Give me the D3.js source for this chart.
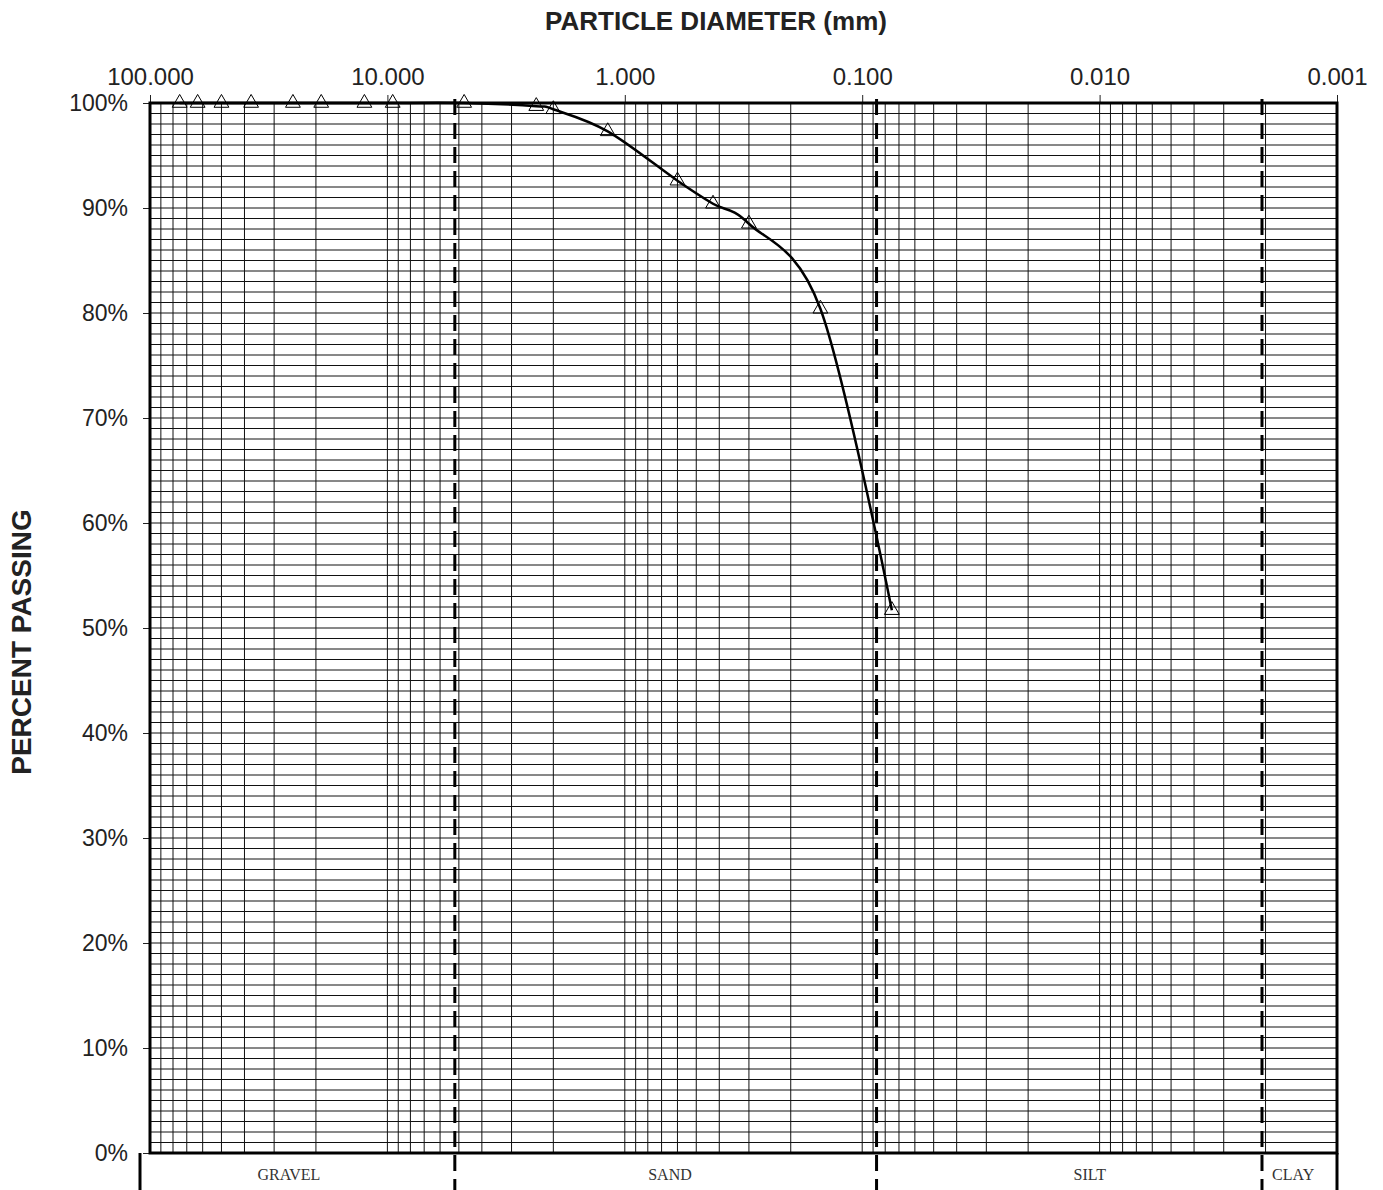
<!DOCTYPE html>
<html lang="en">
<head>
<meta charset="UTF-8">
<script src="https://cdnjs.cloudflare.com/ajax/libs/d3/7.8.5/d3.min.js"></script>
<style>
    body { margin: 0; background: #fff; }
    svg { display: block; }
</style>
</head>
<body>
<div id="chart"></div>
<script>
    // sieve results: particle diameter (mm) and percent passing
    var diameters = [75, 63, 50, 37.5, 25, 19, 12.5, 9.5, 4.75, 2.36, 2.0, 1.18, 0.6, 0.425, 0.3, 0.15, 0.075];
    var passing = [100, 100, 100, 100, 100, 100, 100, 100, 100, 99.7, 99.4, 97.3, 92.6, 90.4, 88.5, 80.4, 51.7];

    var xTicks = [100, 10, 1, 0.1, 0.01, 0.001];
    var yTicks = [0, 10, 20, 30, 40, 50, 60, 70, 80, 90, 100];

    // soil class boundaries (mm) and where the class names sit
    var boundaries = [5.2, 0.087, 0.00207];
    var classNames = ["GRAVEL", "SAND", "SILT", "CLAY"];
    var classLabelAt = [26, 0.645, 0.011, 0.00153];

    var W = 1383, H = 1190;
    var plotL = 150, plotR = 1337, plotT = 103, plotB = 1153;

    var svg = d3.select("#chart").append("svg")
        .attr("width", W)
        .attr("height", H);

    var x = d3.scaleLog().domain([100, 0.001]).range([plotL, plotR]);
    var y = d3.scaleLinear().domain([0, 100]).range([plotB, plotT]);

    // minor log grid
    var vLines = [];
    [0.001, 0.01, 0.1, 1, 10].forEach(function (d) {
        for (var k = 1; k < 10; k++) vLines.push(d * k);
    });
    svg.append("g").selectAll("line")
        .data(vLines)
        .enter().append("line")
        .attr("x1", function (d) { return x(d); })
        .attr("x2", function (d) { return x(d); })
        .attr("y1", plotT)
        .attr("y2", plotB)
        .attr("stroke", "#111")
        .attr("stroke-width", 1);

    var hLines = d3.range(1, 100);
    svg.append("g").selectAll("line")
        .data(hLines)
        .enter().append("line")
        .attr("x1", plotL)
        .attr("x2", plotR)
        .attr("y1", function (d) { return y(d); })
        .attr("y2", function (d) { return y(d); })
        .attr("stroke", "#111")
        .attr("stroke-width", 1);

    // axes
    var xAxis = svg.append("g")
        .attr("transform", "translate(0," + plotT + ")")
        .call(d3.axisTop(x).tickValues(xTicks).tickFormat(d3.format(".3f")).tickSize(8).tickPadding(10));
    xAxis.select(".domain").remove();
    xAxis.selectAll("text")
        .attr("font-family", "Liberation Sans, Arial, sans-serif")
        .attr("font-size", 24)
        .attr("fill", "#222");
    xAxis.selectAll("line").attr("stroke", "#222");

    var yAxis = svg.append("g")
        .attr("transform", "translate(" + plotL + ",0)")
        .call(d3.axisLeft(y).tickValues(yTicks).tickFormat(function (d) { return d + "%"; }).tickSize(7).tickPadding(15));
    yAxis.select(".domain").remove();
    yAxis.selectAll("text")
        .attr("font-family", "Liberation Sans, Arial, sans-serif")
        .attr("font-size", 23)
        .attr("fill", "#222");
    yAxis.selectAll("line").attr("stroke", "#222");

    // frame
    svg.append("rect")
        .attr("x", plotL)
        .attr("y", plotT)
        .attr("width", plotR - plotL)
        .attr("height", plotB - plotT)
        .attr("fill", "none")
        .attr("stroke", "#000")
        .attr("stroke-width", 3);

    // class band under the plot
    svg.append("line")
        .attr("x1", 140).attr("x2", 140)
        .attr("y1", plotB).attr("y2", H)
        .attr("stroke", "#000").attr("stroke-width", 3);
    svg.append("line")
        .attr("x1", plotR).attr("x2", plotR)
        .attr("y1", plotB).attr("y2", H)
        .attr("stroke", "#000").attr("stroke-width", 3);

    svg.append("g").selectAll("line")
        .data(boundaries)
        .enter().append("line")
        .attr("x1", function (d) { return x(d); })
        .attr("x2", function (d) { return x(d); })
        .attr("y1", 99)
        .attr("y2", H)
        .attr("stroke", "#000")
        .attr("stroke-width", 3)
        .attr("stroke-dasharray", "16,8");

    svg.append("g").selectAll("text")
        .data(classNames)
        .enter().append("text")
        .attr("x", function (d, i) { return x(classLabelAt[i]); })
        .attr("y", 1180)
        .attr("text-anchor", "middle")
        .attr("font-family", "Liberation Serif, Times New Roman, serif")
        .attr("font-size", 16)
        .attr("fill", "#333")
        .text(function (d) { return d; });

    // gradation curve
    var pts = diameters.map(function (d, i) { return [d, passing[i]]; });
    var line = d3.line()
        .x(function (d) { return x(d[0]); })
        .y(function (d) { return y(d[1]); })
        .curve(d3.curveCardinal.tension(0));

    svg.append("path")
        .datum(pts)
        .attr("d", line)
        .attr("fill", "none")
        .attr("stroke", "#000")
        .attr("stroke-width", 2.5);

    svg.append("g").selectAll("path")
        .data(pts)
        .enter().append("path")
        .attr("transform", function (d) { return "translate(" + x(d[0]) + "," + y(d[1]) + ")"; })
        .attr("d", d3.symbol().type(d3.symbolTriangle).size(95))
        .attr("fill", "none")
        .attr("stroke", "#000")
        .attr("stroke-width", 1);

    // titles
    svg.append("text")
        .attr("x", 716)
        .attr("y", 30)
        .attr("text-anchor", "middle")
        .attr("font-family", "Liberation Sans, Arial, sans-serif")
        .attr("font-weight", "bold")
        .attr("font-size", 26)
        .attr("fill", "#222")
        .text("PARTICLE DIAMETER (mm)");

    svg.append("text")
        .attr("transform", "translate(31,642) rotate(-90)")
        .attr("text-anchor", "middle")
        .attr("font-family", "Liberation Sans, Arial, sans-serif")
        .attr("font-weight", "bold")
        .attr("font-size", 28)
        .attr("fill", "#222")
        .text("PERCENT PASSING");
</script>
</body>
</html>
